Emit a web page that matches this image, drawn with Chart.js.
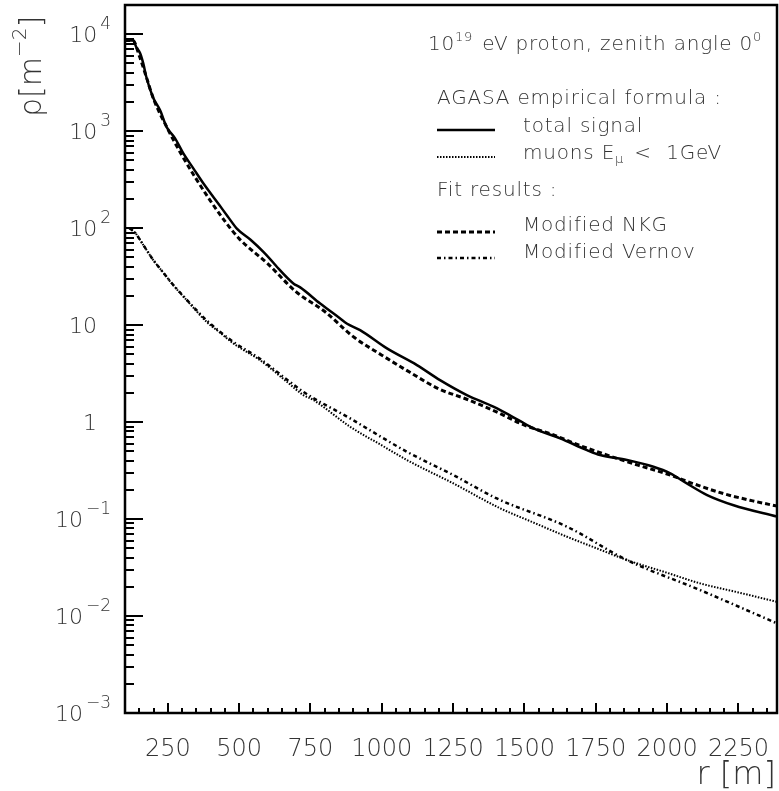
<!DOCTYPE html>
<html>
<head>
<meta charset="utf-8">
<script src="https://cdn.jsdelivr.net/npm/chart.js@4/dist/chart.umd.min.js"></script>
<style>
  html, body { margin: 0; padding: 0; background: #fff; }
  canvas { display: block; }
</style>
</head>
<body>
<canvas id="chart" width="779" height="791"></canvas>
<script>
// Lateral distribution, 10^19 eV proton, zenith angle 0
// r [m] and rho [m^-2]

// AGASA formula, total signal (solid)
const totalR = [100, 128, 140, 153, 164, 175, 198, 223, 246, 275, 304, 340, 375, 430, 460, 492, 540, 585, 620, 632, 690, 714, 784, 854, 877, 924, 1018, 1123, 1204, 1298, 1391, 1479, 1532, 1625, 1719, 1765, 1859, 1952, 2011, 2069, 2140, 2233, 2385];
const totalRho = [8600, 8600, 7300, 6370, 5000, 3600, 2240, 1640, 1100, 847, 593, 411, 288, 174, 132, 99, 76, 57, 44, 40, 26.9, 24.5, 16.7, 11.7, 10.4, 8.87, 5.75, 3.87, 2.71, 1.90, 1.44, 1.05, 0.861, 0.68, 0.514, 0.457, 0.406, 0.346, 0.296, 0.233, 0.177, 0.139, 0.106];

// AGASA formula, muons E < 1 GeV (dotted)
const muonR = [115, 135, 160, 199, 230, 269, 316, 386, 430, 480, 573, 667, 725, 760, 889, 1000, 1088, 1251, 1415, 1530, 1649, 1750, 1859, 2000, 2116, 2250, 2385];
const muonRho = [100, 90, 70, 46.8, 36, 25.8, 18.1, 10.8, 8.5, 6.47, 4.35, 2.61, 1.90, 1.69, 0.895, 0.575, 0.406, 0.233, 0.129, 0.0925, 0.0657, 0.0503, 0.0378, 0.0279, 0.0217, 0.0175, 0.0140];

// Fit: modified NKG (dashed)
const nkgR = [100, 128, 150, 175, 200, 250, 300, 350, 400, 450, 500, 600, 700, 800, 900, 1000, 1100, 1200, 1300, 1400, 1500, 1600, 1700, 1800, 1900, 2000, 2100, 2200, 2300, 2385];
const nkgRho = [8600, 8600, 6000, 3600, 2150, 1050, 560, 320, 190, 118, 78, 43, 22, 13.8, 7.6, 4.9, 3.24, 2.2, 1.71, 1.28, 0.93, 0.74, 0.565, 0.446, 0.358, 0.291, 0.227, 0.182, 0.154, 0.136];

// Fit: modified Vernov (dash-dot)
const vernovR = [115, 135, 160, 199, 230, 269, 316, 386, 480, 573, 667, 725, 889, 1088, 1251, 1403, 1649, 1859, 2116, 2385];
const vernovRho = [100, 90, 70, 47, 36, 26, 18.3, 11.2, 6.7, 4.5, 2.75, 2.05, 1.09, 0.494, 0.284, 0.163, 0.0834, 0.0378, 0.0185, 0.0084];

// axis ranges and tick labels
const xMin = 100, xMax = 2385;
const yMin = 1e-3, yMax = 2e4;
const xLabels = [250, 500, 750, 1000, 1250, 1500, 1750, 2000, 2250];
const yExponents = [-3, -2, -1, 0, 1, 2, 3, 4];

const FONT = '"DejaVu Sans", sans-serif';
const WEIGHT = '200 ';
const TXT = '#333';

function pts(xs, ys) {
    return xs.map((x, i) => ({ x: x, y: ys[i] }));
}

// draw a run of text pieces (for super/subscripts), left aligned
function drawRuns(ctx, x, y, runs, spacing) {
    let cx = x;
    ctx.letterSpacing = (spacing || 0) + 'px';
    runs.forEach(r => {
        ctx.font = WEIGHT + r.size + 'px ' + FONT;
        ctx.fillText(r.t, cx, y + (r.dy || 0));
        cx += ctx.measureText(r.t).width + (r.gap || 0);
    });
    ctx.letterSpacing = '0px';
    return cx;
}

function runsWidth(ctx, runs) {
    let w = 0;
    runs.forEach(r => {
        ctx.font = WEIGHT + r.size + 'px ' + FONT;
        w += ctx.measureText(r.t).width + (r.gap || 0);
    });
    return w;
}

function seg(ctx, x1, y1, x2, y2) {
    ctx.beginPath();
    ctx.moveTo(x1, y1);
    ctx.lineTo(x2, y2);
    ctx.stroke();
}

const framePlugin = {
    id: 'frame',
    beforeDraw(chart) {
        const ctx = chart.ctx;
        ctx.save();
        ctx.fillStyle = '#fff';
        ctx.fillRect(0, 0, chart.width, chart.height);
        ctx.restore();
    },
    afterDatasetsDraw(chart) {
        const { ctx, chartArea: a, scales } = chart;
        const xs = scales.x, ys = scales.y;
        ctx.save();

        // frame
        ctx.strokeStyle = '#000';
        ctx.lineWidth = 2.5;
        ctx.strokeRect(a.left, a.top, a.right - a.left, a.bottom - a.top);

        // y ticks (inside, on the left)
        ctx.lineWidth = 2;
        yExponents.forEach(k => {
            for (let m = 1; m <= 9; m++) {
                const v = m * Math.pow(10, k);
                if (v > yMax) break;
                const py = Math.round(ys.getPixelForValue(v));
                seg(ctx, a.left, py, a.left + (m === 1 ? 18 : 9), py);
            }
        });

        // x ticks (inside, bottom)
        for (let r = 150; r < xMax; r += 50) {
            const px = Math.round(xs.getPixelForValue(r));
            seg(ctx, px, a.bottom, px, a.bottom - (r % 250 === 0 ? 10 : 5));
        }

        ctx.fillStyle = TXT;
        ctx.textBaseline = 'alphabetic';

        // x tick labels
        ctx.font = WEIGHT + '24px ' + FONT;
        ctx.textAlign = 'center';
        xLabels.forEach(v => {
            ctx.fillText(String(v), xs.getPixelForValue(v), a.bottom + 43);
        });

        // y tick labels
        ctx.textAlign = 'left';
        yExponents.forEach(k => {
            const py = ys.getPixelForValue(Math.pow(10, k));
            let runs;
            if (k === 0) runs = [{ t: '1', size: 22 }];
            else if (k === 1) runs = [{ t: '10', size: 22 }];
            else runs = [{ t: '10', size: 22, gap: 3 },
                         { t: (k < 0 ? '\u2212' : '') + Math.abs(k), size: 17, dy: -13 }];
            const right = (k === 0 || k === 1) ? 97 : 111;
            drawRuns(ctx, right - runsWidth(ctx, runs), py + 8, runs);
        });

        // x axis title
        ctx.font = WEIGHT + '32px ' + FONT;
        ctx.textAlign = 'right';
        ctx.fillText('r [m]', 776, 784);

        // y axis title (rotated)
        ctx.save();
        ctx.translate(41, 117);
        ctx.rotate(-Math.PI / 2);
        ctx.textAlign = 'left';
        drawRuns(ctx, 0, 0, [
            { t: '\u03c1[m', size: 30 },
            { t: '\u22122', size: 20, dy: -15 },
            { t: ']', size: 30 }
        ]);
        ctx.restore();

        // legend block
        ctx.textAlign = 'left';
        const sp = 0.8;
        drawRuns(ctx, 428, 50, [
            { t: '10', size: 20 },
            { t: '19', size: 13, dy: -9, gap: 2 },
            { t: ' eV proton, zenith angle 0', size: 20 },
            { t: '0', size: 13, dy: -9 }
        ], sp);
        drawRuns(ctx, 437, 104, [{ t: 'AGASA empirical formula :', size: 20 }], sp);
        drawRuns(ctx, 523, 132, [{ t: 'total signal', size: 20 }], sp);
        drawRuns(ctx, 523, 159, [
            { t: 'muons E', size: 20 },
            { t: '\u03bc', size: 13, dy: 4, gap: 3 },
            { t: ' <  1GeV', size: 20 }
        ], sp);
        drawRuns(ctx, 437, 196, [{ t: 'Fit results :', size: 20 }], sp);
        drawRuns(ctx, 523, 231, [{ t: 'Modified NKG', size: 20 }], sp);
        drawRuns(ctx, 523, 258, [{ t: 'Modified Vernov', size: 20 }], sp);

        const samples = [
            { y: 130, w: 2.5, dash: [] },
            { y: 157, w: 2, dash: [1.5, 1.5] },
            { y: 232, w: 3, dash: [5, 3] },
            { y: 258, w: 2.5, dash: [4, 3, 1.5, 3] }
        ];
        ctx.strokeStyle = '#000';
        samples.forEach(s => {
            ctx.lineWidth = s.w;
            ctx.setLineDash(s.dash);
            seg(ctx, 437, s.y, 495, s.y);
        });
        ctx.setLineDash([]);
        ctx.restore();
    }
};

const common = { pointRadius: 0, borderColor: '#000', fill: false, cubicInterpolationMode: 'monotone' };

new Chart(document.getElementById('chart'), {
    type: 'line',
    data: {
        datasets: [
            Object.assign({ label: 'total signal', data: pts(totalR, totalRho), borderWidth: 2.5 }, common),
            Object.assign({ label: 'muons', data: pts(muonR, muonRho), borderWidth: 2, borderDash: [1.5, 1.5] }, common),
            Object.assign({ label: 'Modified NKG', data: pts(nkgR, nkgRho), borderWidth: 3, borderDash: [5, 3] }, common),
            Object.assign({ label: 'Modified Vernov', data: pts(vernovR, vernovRho), borderWidth: 2.5, borderDash: [4, 3, 1.5, 3] }, common)
        ]
    },
    options: {
        responsive: false,
        animation: false,
        devicePixelRatio: 1,
        layout: { padding: { left: 125, top: 5, right: 2, bottom: 78 } },
        plugins: { legend: { display: false }, tooltip: { enabled: false } },
        scales: {
            x: { type: 'linear', min: xMin, max: xMax, display: false },
            y: { type: 'logarithmic', min: yMin, max: yMax, display: false }
        }
    },
    plugins: [framePlugin]
});
</script>
</body>
</html>
